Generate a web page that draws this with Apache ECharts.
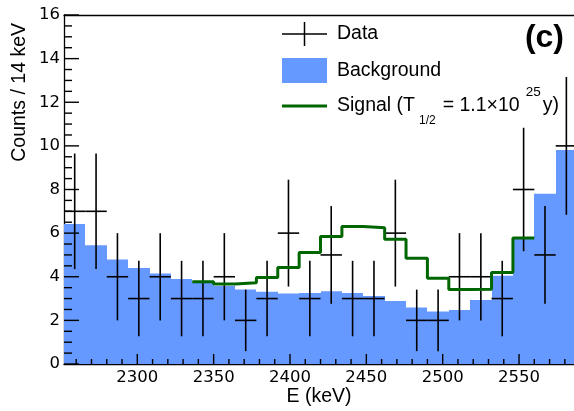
<!DOCTYPE html>
<html>
<head>
<meta charset="utf-8">
<script src="https://cdn.jsdelivr.net/npm/echarts@6/dist/echarts.min.js"></script>
<style>
  html, body { margin: 0; padding: 0; background: #fff; }
  #chart { width: 574px; height: 411px; }
</style>
</head>
<body>
<div id="chart"></div>
<script>
// bins of 14 keV, given by their centre energy
var binWidth = 14;
var binCenters = [2259, 2273, 2287, 2301, 2315, 2329, 2343, 2357, 2371, 2385, 2399, 2413,
                  2427, 2441, 2455, 2469, 2483, 2497, 2511, 2525, 2539, 2553, 2567, 2581];
var counts = [7, 7, 4, 3, 4, 3, 3, 4, 2, 3, 6, 3, 5, 3, 3, 6, 2, 2, 4, 4, 3, 8, 5, 10];
var countErr = [2.65, 2.65, 2, 1.73, 2, 1.73, 1.73, 2, 1.41, 1.73, 2.45, 1.73,
                2.24, 1.73, 1.73, 2.45, 1.41, 1.41, 2, 2, 1.73, 2.83, 2.24, 3.16];
var background = [6.42, 5.44, 4.79, 4.40, 4.15, 3.90, 3.75, 3.58, 3.41, 3.31, 3.23, 3.26,
                  3.34, 3.26, 3.12, 2.89, 2.59, 2.41, 2.48, 2.93, 4.05, 5.76, 7.81, 9.81];
// background + signal, bins 2343 .. 2553
var signalCenters = [2343, 2357, 2371, 2385, 2399, 2413, 2427, 2441,
                     2455, 2469, 2483, 2497, 2511, 2525, 2539, 2553];
var signalTotal = [3.77, 3.67, 3.73, 3.96, 4.42, 5.11, 5.84, 6.30,
                   6.25, 5.72, 4.85, 3.93, 3.42, 3.43, 4.19, 5.78];
var xMajorTicks = [2300, 2350, 2400, 2450, 2500, 2550];
var xMinorTicks = [2260, 2270, 2280, 2290, 2310, 2320, 2330, 2340, 2360, 2370, 2380, 2390,
                   2410, 2420, 2430, 2440, 2460, 2470, 2480, 2490, 2510, 2520, 2530, 2540,
                   2560, 2570, 2580];
var yMajorTicks = [0, 2, 4, 6, 8, 10, 12, 14, 16];
var yMinorTicks = [0.5, 1, 1.5, 2.5, 3, 3.5, 4.5, 5, 5.5, 6.5, 7, 7.5, 8.5, 9, 9.5,
                   10.5, 11, 11.5, 12.5, 13, 13.5, 14.5, 15, 15.5];

var labelFont = 'Liberation Sans';
var tickFont = 'DejaVu Sans';

var dataIcon = 'path://M0,11.25 h45 v1.5 h-45 Z M21.75,0 h1.5 v24 h-1.5 Z';
var lineIcon = 'path://M0,0 h45 v3 h-45 Z';

var chart = echarts.init(document.getElementById('chart'));

function renderBackground(params, api) {
    var x = api.value(0), v = api.value(1);
    var p0 = api.coord([x - binWidth / 2, 0]);
    var p1 = api.coord([x + binWidth / 2, v]);
    var x0 = Math.round(p0[0]), x1 = Math.round(p1[0]);
    return {
        type: 'rect',
        shape: { x: x0, y: p1[1], width: x1 - x0, height: p0[1] - p1[1] },
        style: { fill: '#6699ff' }
    };
}

function renderData(params, api) {
    var x = api.value(0), n = api.value(1), e = api.value(2);
    var left = api.coord([x - binWidth / 2, n]);
    var right = api.coord([x + binWidth / 2, n]);
    var top = api.coord([x, n + e]);
    var bottom = api.coord([x, n - e]);
    var st = { stroke: '#000', lineWidth: 1.6 };
    return {
        type: 'group',
        children: [
            { type: 'line', shape: { x1: left[0], y1: left[1], x2: right[0], y2: right[1] }, style: st },
            { type: 'line', shape: { x1: top[0], y1: top[1], x2: bottom[0], y2: bottom[1] }, style: st }
        ]
    };
}

// inward tick marks drawn on top of the filled histogram (ROOT style)
function renderXTicks(params, api) {
    var p = api.coord([api.value(0), 0]);
    var len = api.value(1) ? 10 : 5;
    return { type: 'line', z2: 100, shape: { x1: p[0], y1: p[1], x2: p[0], y2: p[1] - len }, style: { stroke: '#000', lineWidth: 1.4 } };
}
function renderYTicks(params, api) {
    var p = api.coord([2252, api.value(1)]);
    var len = api.value(0) ? 15 : 8;
    return { type: 'line', z2: 100, shape: { x1: p[0], y1: p[1], x2: p[0] + len, y2: p[1] }, style: { stroke: '#000', lineWidth: 1.4 } };
}

var bgData = binCenters.map(function (c, i) { return [c, background[i]]; });
var countData = binCenters.map(function (c, i) { return [c, counts[i], countErr[i]]; });
// step line points at the left edge of each bin, plus the right edge of the last one
var signalData = signalCenters.map(function (c, i) { return [c - binWidth / 2, signalTotal[i]]; });
signalData.push([signalCenters[signalCenters.length - 1] + binWidth / 2, signalTotal[signalTotal.length - 1]]);
var xTickData = xMajorTicks.map(function (v) { return [v, 1]; })
    .concat(xMinorTicks.map(function (v) { return [v, 0]; }));
var yTickData = yMajorTicks.map(function (v) { return [1, v]; })
    .concat(yMinorTicks.map(function (v) { return [0, v]; }));

var gridBox = { left: 64, right: 0, top: 15, bottom: 47, outerBoundsMode: 'none' };
var plain = function (v) { return String(v); };
var tickStyle = { color: '#000', width: 1.3 };

chart.setOption({
    animation: false,
    backgroundColor: '#fff',
    grid: [gridBox],
    legend: [{
        orient: 'vertical',
        left: 282,
        top: 22,
        padding: 0,
        itemWidth: 45,
        itemHeight: 25,
        itemGap: 12,
        selectedMode: false,
        data: [{ name: 'Data', icon: dataIcon }, { name: 'Background', icon: 'rect' }],
        textStyle: { fontFamily: labelFont, fontSize: 19.5, color: '#000', padding: [0, 0, 0, 5] }
    }, {
        orient: 'vertical',
        left: 282,
        top: 85,
        padding: 0,
        itemWidth: 45,
        itemHeight: 25,
        selectedMode: false,
        data: [{ name: 'Signal', icon: lineIcon, itemStyle: { borderWidth: 0 } }],
        formatter: function () {
            return '{a|Signal (T}{sub|1/2}{a|= 1.1\u00d710}{sup|25}{b|y)}';
        },
        textStyle: {
            fontFamily: labelFont, fontSize: 19.5, color: '#000', padding: [0, 0, 0, 5],
            rich: {
                a: { fontFamily: labelFont, fontSize: 19.5, lineHeight: 42, verticalAlign: 'middle' },
                b: { fontFamily: labelFont, fontSize: 19.5, lineHeight: 42, verticalAlign: 'middle', padding: [0, 0, 0, 2] },
                sub: { fontFamily: labelFont, fontSize: 12, lineHeight: 16, verticalAlign: 'bottom', padding: [0, 7, 0, 4] },
                sup: { fontFamily: labelFont, fontSize: 13.5, lineHeight: 11, verticalAlign: 'top', padding: [0, 0, 0, 6] }
            }
        }
    }],
    xAxis: [{
        type: 'value',
        min: 2252,
        max: 2586,
        axisLine: { show: true, lineStyle: tickStyle },
        axisTick: { show: false },
        axisLabel: { customValues: xMajorTicks, formatter: plain, color: '#000', fontFamily: tickFont, fontSize: 16.5, margin: 5 },
        splitLine: { show: false }
    }, {
        type: 'value',
        position: 'top',
        min: 2252,
        max: 2586,
        axisLine: { show: true, lineStyle: tickStyle },
        axisTick: { show: false },
        axisLabel: { show: false },
        splitLine: { show: false }
    }],
    yAxis: [{
        type: 'value',
        min: 0,
        max: 16,
        interval: 2,
        axisLine: { show: true, lineStyle: tickStyle },
        axisTick: { show: false },
        axisLabel: { color: '#000', fontFamily: tickFont, fontSize: 16.5, margin: 4 },
        splitLine: { show: false }
    }],
    graphic: [{
        type: 'text',
        x: 20,
        y: 23,
        rotation: Math.PI / 2,
        style: { text: 'Counts / 14 keV', font: '19.5px "Liberation Sans"', align: 'right', verticalAlign: 'middle', fill: '#000' }
    }, {
        type: 'text',
        x: 319,
        y: 397,
        style: { text: 'E (keV)', font: '19.5px "Liberation Sans"', align: 'center', verticalAlign: 'middle', fill: '#000' }
    }, {
        type: 'text',
        x: 564,
        y: 38,
        style: { text: '(c)', font: 'bold 32px "Liberation Sans"', align: 'right', verticalAlign: 'middle', fill: '#000' }
    }],
    series: [{
        name: 'Background',
        type: 'custom',
        clip: true,
        itemStyle: { color: '#6699ff' },
        renderItem: renderBackground,
        encode: { x: 0, y: 1 },
        data: bgData
    }, {
        name: 'Signal',
        type: 'line',
        step: 'end',
        symbol: 'none',
        itemStyle: { color: '#006600' },
        lineStyle: { color: '#006600', width: 3 },
        data: signalData
    }, {
        name: 'Data',
        type: 'custom',
        clip: true,
        itemStyle: { color: '#000' },
        renderItem: renderData,
        encode: { x: 0, y: 1 },
        data: countData
    }, {
        name: 'xTicks',
        type: 'custom',
        z: 20,
        silent: true,
        renderItem: renderXTicks,
        encode: { x: 0 },
        data: xTickData
    }, {
        name: 'yTicks',
        type: 'custom',
        z: 20,
        silent: true,
        renderItem: renderYTicks,
        encode: { y: 1 },
        data: yTickData
    }]
});
</script>
</body>
</html>
